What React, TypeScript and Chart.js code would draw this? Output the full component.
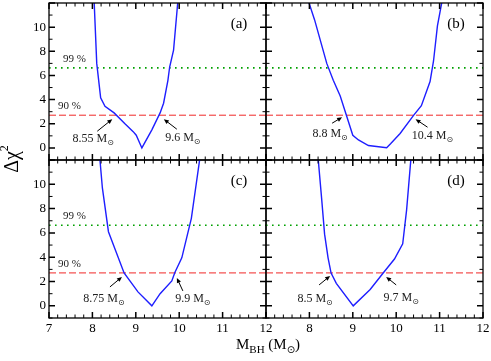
import React, { useEffect, useRef } from 'react';
import { Chart, registerables } from 'chart.js';
Chart.register(...registerables);

// ---- data ----
const MASS_A = [8.03, 8.1, 8.19, 8.29, 8.5, 8.75, 8.94, 9.01, 9.14, 9.37, 9.56, 9.64, 9.74, 9.78, 9.87, 9.99];
const CHI_A = [13, 7.0, 4.15, 3.45, 2.9, 2.0, 1.35, 1.05, 0, 1.5, 2.9, 3.7, 5.6, 6.7, 8.1, 13];

const MASS_B = [7.9, 8.12, 8.4, 8.55, 8.71, 9.0, 9.13, 9.36, 9.78, 9.87, 10.09, 10.4, 10.58, 10.78, 10.86, 10.95, 11.1];
const CHI_B = [13, 10.6, 7.0, 5.6, 4.3, 1.05, 0.66, 0.2, 0.02, 0.35, 1.2, 2.7, 3.5, 5.5, 7.2, 10.1, 13];

const MASS_C = [8.15, 8.23, 8.37, 8.73, 9.05, 9.37, 9.56, 9.83, 9.9, 10.06, 10.28, 10.51];
const CHI_C = [13, 9.7, 6.1, 2.7, 1.15, 0, 1.0, 2.05, 2.75, 3.95, 7.2, 13];

const MASS_D = [8.18, 8.28, 8.35, 8.43, 8.5, 8.62, 9.01, 9.4, 9.7, 9.96, 10.15, 10.24, 10.36];
const CHI_D = [13, 8.9, 5.9, 3.95, 2.7, 1.85, 0, 1.35, 2.7, 3.85, 5.1, 7.9, 13];

const LIMITS_A = [8.55, 9.6];
const LIMITS_B = [8.8, 10.4];
const LIMITS_C = [8.75, 9.9];
const LIMITS_D = [8.5, 9.7];

const CL_99 = 6.63;
const CL_90 = 2.71;
const CL_LABELS = ['99 %', '90 %'];
const PANEL_LABELS = ['(a)', '(b)', '(c)', '(d)'];

const X_MIN = 7;
const X_MAX = 12;
const Y_MIN = -1;
const Y_MAX = 12;
const Y_TICK_LABELS = [0, 2, 4, 6, 8, 10];
const X_TICK_LABELS_C = [7, 8, 9, 10, 11, 12];
const X_TICK_LABELS_D = [8, 9, 10, 11, 12];
const X_MINOR_STEP = 0.2;
const Y_MINOR_STEP = 1;

const SERIF = "'Liberation Serif', 'Times New Roman', serif";

type Ann = { head: [number, number]; tail: [number, number]; text: [number, number] };
type Panel = {
  id: string;
  label: string;
  mass: number[];
  chi: number[];
  limits: number[];
  box: { l: number; t: number; r: number; b: number };
  showY: boolean;
  xTicks: number[] | null;
  showCL: boolean;
  titles: boolean;
  ann: Ann[];
};

const PANELS: Panel[] = [
  {
    id: 'a', label: PANEL_LABELS[0], mass: MASS_A, chi: CHI_A, limits: LIMITS_A,
    box: { l: 49, t: 3, r: 266, b: 160 }, showY: true, xTicks: null, showCL: true, titles: false,
    ann: [
      { head: [-4, 4], tail: [-19, 16], text: [-23, 23] },
      { head: [2, 4], tail: [15, 14], text: [21, 22] },
    ],
  },
  {
    id: 'b', label: PANEL_LABELS[1], mass: MASS_B, chi: CHI_B, limits: LIMITS_B,
    box: { l: 266, t: 3, r: 483, b: 160 }, showY: false, xTicks: null, showCL: false, titles: false,
    ann: [
      { head: [-2, 2], tail: [-12, 8], text: [-14, 18] },
      { head: [2, 4], tail: [14, 12], text: [19, 20] },
    ],
  },
  {
    id: 'c', label: PANEL_LABELS[2], mass: MASS_C, chi: CHI_C, limits: LIMITS_C,
    box: { l: 49, t: 160, r: 266, b: 318 }, showY: true, xTicks: X_TICK_LABELS_C, showCL: true, titles: true,
    ann: [
      { head: [-3, 4], tail: [-15, 14], text: [-21, 25] },
      { head: [2, 5], tail: [8, 18], text: [18, 25] },
    ],
  },
  {
    id: 'd', label: PANEL_LABELS[3], mass: MASS_D, chi: CHI_D, limits: LIMITS_D,
    box: { l: 266, t: 160, r: 483, b: 318 }, showY: false, xTicks: X_TICK_LABELS_D, showCL: false, titles: false,
    ann: [
      { head: [-1, 3], tail: [-12, 12], text: [-16, 25] },
      { head: [3, 4], tail: [13, 12], text: [18, 24] },
    ],
  },
];

const W = 491;
const H = 361;

type Part = { t: string; f: string; dy?: number };

function drawRich(ctx: CanvasRenderingContext2D, parts: Part[], cx: number, baseline: number) {
  let total = 0;
  const widths = parts.map((p) => {
    ctx.font = p.f;
    const w = ctx.measureText(p.t).width;
    total += w;
    return w;
  });
  let x = cx - total / 2;
  ctx.textAlign = 'left';
  ctx.textBaseline = 'alphabetic';
  parts.forEach((p, i) => {
    ctx.font = p.f;
    ctx.fillText(p.t, x, baseline + (p.dy || 0));
    x += widths[i];
  });
}

function makePlugin(panel: Panel) {
  return {
    id: 'frame_' + panel.id,
    afterDraw(chart: any) {
      const { ctx, chartArea: ca, scales } = chart;
      const xs = scales.x;
      const ys = scales.y;
      ctx.save();
      ctx.strokeStyle = '#000';
      ctx.fillStyle = '#000';
      // frame
      ctx.lineWidth = 1.3;
      ctx.strokeRect(ca.left, ca.top, ca.right - ca.left, ca.bottom - ca.top);
      // x ticks (top & bottom, inward)
      const nx = Math.round((X_MAX - X_MIN) / X_MINOR_STEP);
      for (let i = 0; i <= nx; i++) {
        const v = X_MIN + i * X_MINOR_STEP;
        const px = xs.getPixelForValue(v);
        const major = i % 5 === 0;
        const len = major ? 6 : 3.5;
        ctx.lineWidth = major ? 1.5 : 1;
        ctx.beginPath();
        ctx.moveTo(px, ca.bottom);
        ctx.lineTo(px, ca.bottom - len);
        ctx.moveTo(px, ca.top);
        ctx.lineTo(px, ca.top + len);
        ctx.stroke();
      }
      // y ticks (left & right, inward)
      const ny = Math.round((Y_MAX - Y_MIN) / Y_MINOR_STEP);
      for (let i = 0; i <= ny; i++) {
        const v = Y_MIN + i * Y_MINOR_STEP;
        const py = ys.getPixelForValue(v);
        const major = Math.round(v) % 2 === 0;
        const len = major ? 6 : 3.5;
        ctx.lineWidth = major ? 1.5 : 1;
        ctx.beginPath();
        ctx.moveTo(ca.left, py);
        ctx.lineTo(ca.left + len, py);
        ctx.moveTo(ca.right, py);
        ctx.lineTo(ca.right - len, py);
        ctx.stroke();
      }
      // panel label
      ctx.font = `15px ${SERIF}`;
      ctx.textAlign = 'center';
      ctx.textBaseline = 'middle';
      ctx.fillText(panel.label, ca.right - 27, ca.top + 21);
      // confidence labels
      if (panel.showCL) {
        ctx.font = `11px ${SERIF}`;
        ctx.fillStyle = '#222';
        ctx.textAlign = 'left';
        ctx.textBaseline = 'middle';
        ctx.fillText(CL_LABELS[0], ca.left + 14, ys.getPixelForValue(CL_99) - 9);
        ctx.fillText(CL_LABELS[1], ca.left + 9, ys.getPixelForValue(CL_90) - 9);
        ctx.fillStyle = '#000';
      }
      // annotations
      panel.limits.forEach((lim, i) => {
        const a = panel.ann[i];
        const ix = xs.getPixelForValue(lim);
        const iy = ys.getPixelForValue(CL_90);
        const hx = ix + a.head[0];
        const hy = iy + a.head[1];
        const tx = ix + a.tail[0];
        const ty = iy + a.tail[1];
        const ang = Math.atan2(hy - ty, hx - tx);
        const al = 5;
        const aw = 2.2;
        ctx.lineWidth = 1;
        ctx.beginPath();
        ctx.moveTo(tx, ty);
        ctx.lineTo(hx - Math.cos(ang) * al * 0.8, hy - Math.sin(ang) * al * 0.8);
        ctx.stroke();
        ctx.beginPath();
        ctx.moveTo(hx, hy);
        ctx.lineTo(hx - Math.cos(ang) * al - Math.sin(ang) * aw, hy - Math.sin(ang) * al + Math.cos(ang) * aw);
        ctx.lineTo(hx - Math.cos(ang) * al + Math.sin(ang) * aw, hy - Math.sin(ang) * al - Math.cos(ang) * aw);
        ctx.closePath();
        ctx.fill();
        ctx.fillStyle = '#222';
        drawRich(
          ctx,
          [
            { t: `${lim} M`, f: `12px ${SERIF}` },
            { t: '\u2299', f: `8px 'DejaVu Sans', sans-serif`, dy: 3 },
          ],
          ix + a.text[0],
          iy + a.text[1] + 4
        );
        ctx.fillStyle = '#000';
      });
      // axis titles
      if (panel.titles) {
        ctx.fillStyle = '#000';
        ctx.save();
        ctx.translate(18, 159);
        ctx.rotate(-Math.PI / 2);
        drawRich(
          ctx,
          [
            { t: '\u0394\u03C7', f: `20px ${SERIF}` },
            { t: '2', f: `12px ${SERIF}`, dy: -10 },
          ],
          0,
          0
        );
        ctx.restore();
        drawRich(
          ctx,
          [
            { t: 'M', f: `15px ${SERIF}` },
            { t: 'BH', f: `11px ${SERIF}`, dy: 4 },
            { t: ' (M', f: `15px ${SERIF}` },
            { t: '\u2299', f: `10px 'DejaVu Sans', sans-serif`, dy: 4 },
            { t: ')', f: `15px ${SERIF}` },
          ],
          268,
          349
        );
      }
      ctx.restore();
    },
  };
}

function buildConfig(panel: Panel): any {
  const curve = panel.mass.map((m, i) => ({ x: m, y: panel.chi[i] }));
  const showX = !!panel.xTicks;
  const pad = {
    left: panel.showY ? 0 : panel.box.l,
    top: panel.box.t,
    right: W - panel.box.r,
    bottom: showX ? 0 : H - panel.box.b,
  };
  const tickFont = { family: SERIF, size: 13 };
  return {
    type: 'line',
    data: {
      datasets: [
        { data: curve, borderColor: 'rgb(30,30,255)', borderWidth: 1.4, pointRadius: 0, tension: 0, fill: false, clip: 0 },
        { data: [{ x: X_MIN, y: CL_90 }, { x: X_MAX, y: CL_90 }], borderColor: 'rgb(240,40,40)', borderWidth: 1, borderDash: [7, 3], pointRadius: 0, fill: false, clip: 0 },
        { data: [{ x: X_MIN, y: CL_99 }, { x: X_MAX, y: CL_99 }], borderColor: 'rgb(0,160,0)', borderWidth: 1.6, borderDash: [1.6, 4.4], pointRadius: 0, fill: false, clip: 0 },
      ],
    },
    options: {
      responsive: false,
      animation: false,
      devicePixelRatio: 1,
      events: [],
      layout: { padding: pad },
      plugins: { legend: { display: false }, tooltip: { enabled: false } },
      scales: {
        x: {
          type: 'linear',
          min: X_MIN,
          max: X_MAX,
          display: showX,
          grid: { display: false, drawTicks: false },
          border: { display: false },
          afterBuildTicks: (s: any) => {
            s.ticks = (panel.xTicks || []).map((v) => ({ value: v }));
          },
          afterFit: (s: any) => {
            s.height = showX ? H - panel.box.b : 0;
            s.paddingLeft = 0;
            s.paddingRight = 0;
          },
          ticks: { font: tickFont, color: '#000', padding: 3, maxRotation: 0, autoSkip: false },
        },
        y: {
          type: 'linear',
          min: Y_MIN,
          max: Y_MAX,
          display: panel.showY,
          grid: { display: false, drawTicks: false },
          border: { display: false },
          afterBuildTicks: (s: any) => {
            s.ticks = Y_TICK_LABELS.map((v) => ({ value: v }));
          },
          afterFit: (s: any) => {
            s.width = panel.showY ? panel.box.l : 0;
            s.paddingTop = 0;
            s.paddingBottom = 0;
          },
          ticks: { font: tickFont, color: '#000', padding: 3, autoSkip: false },
        },
      },
    },
    plugins: [makePlugin(panel)],
  };
}

function PanelChart({ panel }: { panel: Panel }) {
  const ref = useRef<HTMLCanvasElement>(null);
  useEffect(() => {
    const chart = new Chart(ref.current as HTMLCanvasElement, buildConfig(panel));
    return () => chart.destroy();
  }, [panel]);
  return (
    <canvas
      ref={ref}
      width={W}
      height={H}
      style={{ position: 'absolute', left: 0, top: 0, width: W, height: H }}
    />
  );
}

export default function App() {
  return (
    <div style={{ position: 'fixed', left: 0, top: 0, width: W, height: H, background: '#fff', overflow: 'hidden' }}>
      {PANELS.map((p) => (
        <PanelChart key={p.id} panel={p} />
      ))}
    </div>
  );
}
